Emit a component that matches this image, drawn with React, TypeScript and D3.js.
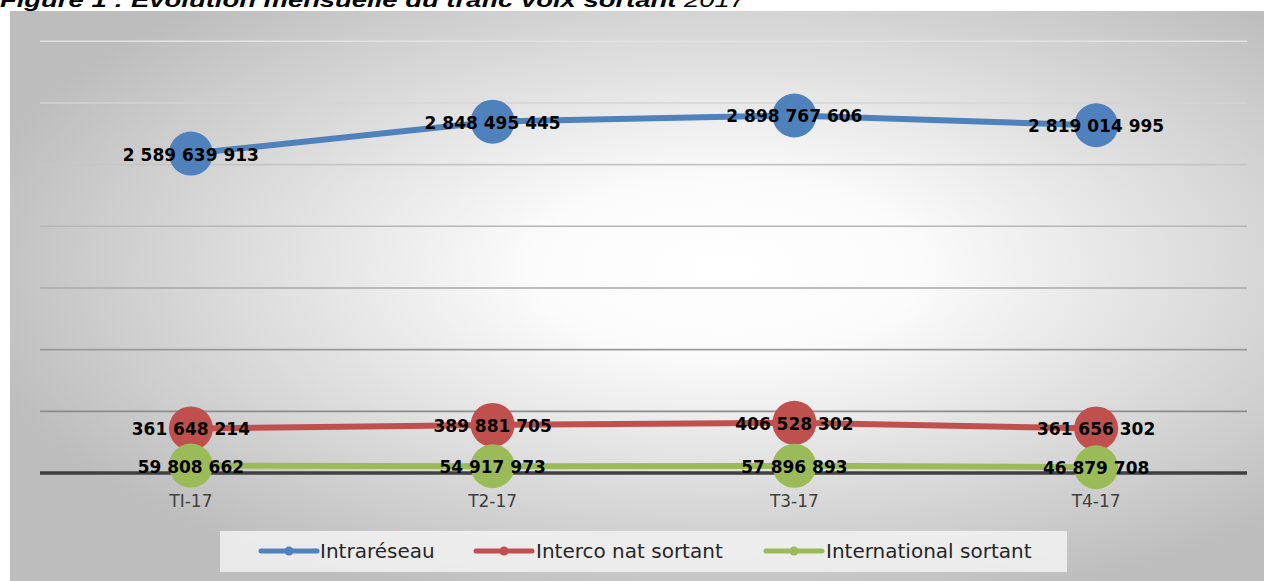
import React from "react";
import * as d3 from "d3";

const categories = ["TI-17", "T2-17", "T3-17", "T4-17"];
const intrareseau = [2589639913, 2848495445, 2898767606, 2819014995];
const interco = [361648214, 389881705, 406528302, 361656302];
const international = [59808662, 54917973, 57896893, 46879708];
const seriesNames = ["Intraréseau", "Interco nat sortant", "International sortant"];
const seriesColors = ["#4f81bd", "#c0504d", "#9bbb59"];
const yTicks = [0, 500000000, 1000000000, 1500000000, 2000000000, 2500000000, 3000000000, 3500000000];

const W = 1264;
const H = 581;

const fmt = (v: number) => {
  const s = String(v);
  return s.replace(/\B(?=(\d{3})+(?!\d))/g, " ");
};

export default function App() {
  const x = d3.scaleBand<string>().domain(categories).range([40, 1247]);
  const y = d3.scaleLinear().domain([0, 3500000000]).range([473, 41.3]);
  const cx = (c: string) => (x(c) as number) + x.bandwidth() / 2;
  const series = [intrareseau, interco, international];
  const line = d3
    .line<number>()
    .x((_, i) => cx(categories[i]))
    .y((d) => y(d));
  const gridColor = d3.interpolateRgb("#8c8c8c", "#e2e2e2");

  const legendItems = [
    { lx: 261, tx: 320 },
    { lx: 476, tx: 536 },
    { lx: 766, tx: 826 },
  ];

  return (
    <svg
      width={W}
      height={H}
      style={{ position: "absolute", left: 0, top: 0, display: "block" }}
      fontFamily="'DejaVu Sans', sans-serif"
    >
      <defs>
        <radialGradient id="bg" cx="0.57" cy="0.45" r="0.62">
          <stop offset="0" stopColor="#ffffff" />
          <stop offset="0.25" stopColor="#fbfbfb" />
          <stop offset="1" stopColor="#bdbdbd" />
        </radialGradient>
      </defs>
      <rect x={0} y={0} width={W} height={H} fill="#ffffff" />
      <text
        x={0}
        y={7}
        fontFamily="'Liberation Sans', Arial, sans-serif"
        fontSize={20}
        fontWeight="bold"
        fontStyle="italic"
        fill="#000"
        textLength={745}
        lengthAdjust="spacingAndGlyphs"
      >
        Figure 1 : Evolution mensuelle du trafic voix sortant <tspan fontWeight="normal">2017</tspan>
      </text>
      <rect x={10} y={11} width={W - 10} height={H - 11} fill="url(#bg)" />
      {yTicks.map((t, i) =>
        i === 0 ? null : (
          <line
            key={t}
            x1={40}
            x2={1247}
            y1={y(t)}
            y2={y(t)}
            stroke={gridColor((i - 1) / (yTicks.length - 2))}
            strokeWidth={1.6}
          />
        )
      )}
      <line x1={40} x2={1247} y1={y(0)} y2={y(0)} stroke="#404040" strokeWidth={3.5} />
      {categories.map((c) => (
        <text
          key={c}
          x={cx(c)}
          y={501}
          textAnchor="middle"
          dominantBaseline="central"
          fontSize={17}
          fill="#404040"
        >
          {c}
        </text>
      ))}
      {series.map((s, si) => (
        <g key={si}>
          <path
            d={line(s) as string}
            fill="none"
            stroke={seriesColors[si]}
            strokeWidth={6}
            strokeLinejoin="round"
          />
          {s.map((v, i) => (
            <circle key={i} cx={cx(categories[i])} cy={y(v)} r={22} fill={seriesColors[si]} />
          ))}
        </g>
      ))}
      {series.map((s, si) => (
        <g key={"l" + si}>
          {s.map((v, i) => (
            <text
              key={i}
              x={cx(categories[i])}
              y={y(v) + 1}
              textAnchor="middle"
              dominantBaseline="central"
              fontSize={17}
              fontWeight="bold"
              fill="#000"
            >
              {fmt(v)}
            </text>
          ))}
        </g>
      ))}
      <rect x={220} y={531} width={847} height={41} fill="#f2f2f2" opacity={0.85} />
      {legendItems.map((it, i) => (
        <g key={i}>
          <line
            x1={it.lx}
            x2={it.lx + 56}
            y1={551}
            y2={551}
            stroke={seriesColors[i]}
            strokeWidth={5}
            strokeLinecap="round"
          />
          <circle cx={it.lx + 28} cy={551} r={4.5} fill={seriesColors[i]} />
          <text x={it.tx} y={551} dominantBaseline="central" fontSize={20} fill="#262626">
            {seriesNames[i]}
          </text>
        </g>
      ))}
    </svg>
  );
}
